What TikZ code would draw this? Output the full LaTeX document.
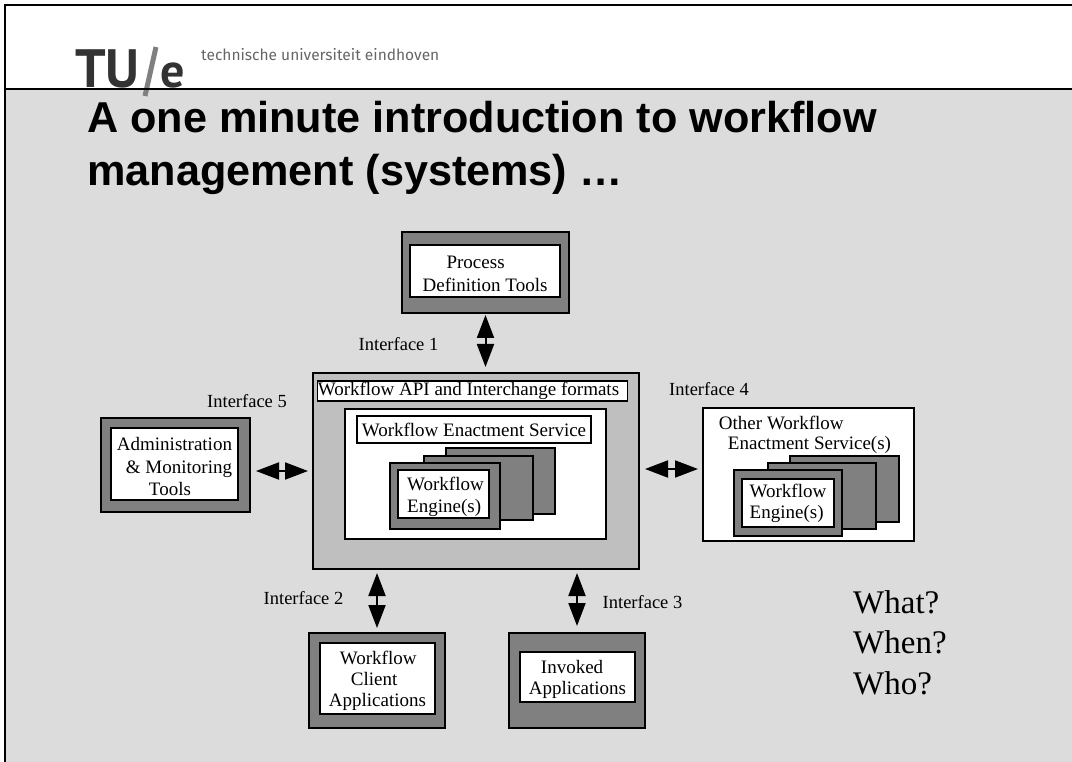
\documentclass[tikz,border=0pt]{standalone}
\usepackage{fontspec}
\setmainfont{Liberation Serif}
\newfontfamily\titlefont{Liberation Sans}
\newfontfamily\logofont{PT Sans}
\newfontfamily\tagfont{Fira Sans}
\usetikzlibrary{arrows.meta}
\definecolor{slidegray}{HTML}{DCDCDC}
\definecolor{panelgray}{HTML}{BFBFBF}
\definecolor{cardgray}{HTML}{808080}
\newcommand{\lowline}{\rule{0pt}{19pt}}
\tikzset{
	box/.style={draw=black,line width=1.3pt,inner sep=0pt,outer sep=0pt,anchor=center},
	card/.style={box,fill=cardgray},
	panel/.style={box,fill=white,align=left,font=\fontsize{19}{21}\selectfont},
	iface/.style={inner sep=0pt,font=\fontsize{18.5}{21}\selectfont},
	biarrow/.style={<->,line width=2pt}
}
\begin{document}
\begin{tikzpicture}[x=1pt,y=-1pt,>={Triangle[length=23pt,width=17pt]}]
		\useasboundingbox (0,0) rectangle (1072,762);
		% slide background and frame
		\fill[slidegray] (5,89) rectangle (1072,762);
		\node[inner sep=0pt,anchor=base west,text=black!80,font=\logofont\bfseries\fontsize{54}{54}\selectfont] (tu) at (75,88) {TU};
		\draw[line width=5pt,black!50] (156,47)--(145,96);
		\node[inner sep=0pt,anchor=base west,text=black!80,font=\logofont\bfseries\fontsize{48}{48}\selectfont] (eind) at (160,88) {e};
		\draw[line width=1.2pt] (5,89)--(1072,89);
		\draw[line width=2.6pt] (1072,5)--(5,5)--(5,762);
		\node[inner sep=0pt,anchor=west,text=black!60,font=\tagfont\fontsize{15.5}{15.5}\selectfont] (tag) at (201,55) {technische universiteit eindhoven};
		% title
		\node[inner sep=0pt,anchor=base west,align=left,font=\titlefont\bfseries\fontsize{43.2}{53.5}\selectfont] (title) at (87,186) {A one minute introduction to workflow\\management (systems) \ldots};
		% tools round the service
		\node[card,minimum width=167pt,minimum height=81pt] (processout) at (485.5,272.5) {};
		\node[panel,minimum width=150pt,minimum height=52pt] (process) at (485,271) {\lowline\hspace*{24pt}Process\\[2pt]Definition Tools};
		\node[card,minimum width=149pt,minimum height=94pt] (adminout) at (175.5,465) {};
		\node[panel,minimum width=127pt,minimum height=72pt] (admin) at (174.5,464) {\lowline Administration\\[1.5pt]\hspace*{9pt}\& Monitoring\\[1.5pt]\hspace*{32pt}Tools};
		\node[card,minimum width=136pt,minimum height=95pt] (clientout) at (377,680.5) {};
		\node[panel,minimum width=115pt,minimum height=71pt] (client) at (377.5,678.5) {\lowline\hspace*{11pt}Workflow\\\hspace*{22pt}Client\\Applications};
		\node[card,minimum width=136pt,minimum height=95pt] (invokedout) at (577,680.5) {};
		\node[panel,minimum width=115pt,minimum height=50pt] (invoked) at (577.5,677) {\lowline\hspace*{12pt}Invoked\\Applications};
		% enactment service
		\node[box,fill=panelgray,minimum width=326pt,minimum height=196pt] (central) at (476,471) {};
		\node[panel,minimum width=309pt,minimum height=20pt] (api) at (472.5,391) {Workflow API and Interchange formats\hspace*{8pt}};
		\node[box,fill=white,minimum width=261pt,minimum height=130pt] (service) at (475.5,474) {};
		\node[panel,minimum width=234pt,minimum height=27pt] (enact) at (474,429.5) {Workflow Enactment Service};
		\node[card,minimum width=109pt,minimum height=66pt] (back) at (500.5,481) {};
		\node[card,minimum width=109pt,minimum height=64pt] (mid) at (478.5,488) {};
		\node[card,minimum width=110pt,minimum height=66pt] (front) at (445,496) {};
		\node[panel,minimum width=91pt,minimum height=48pt] (engine) at (443.5,494) {\lowline\hspace*{4pt}Workflow\\[1pt]\hspace*{4pt}Engine(s)};
		% other service
		\node[box,fill=white,minimum width=211pt,minimum height=133pt] (other) at (808.5,474.5) {};
		\node[inner sep=0pt,align=left,font=\fontsize{19}{20}\selectfont] (othertext) at (805,435) {Other Workflow\\\hspace*{9pt}Enactment Service(s)};
		\node[card,minimum width=109pt,minimum height=66pt] (otherback) at (844.5,489) {};
		\node[card,minimum width=108pt,minimum height=66pt] (othermid) at (822,496) {};
		\node[card,minimum width=108pt,minimum height=66pt] (otherfront) at (788,503) {};
		\node[panel,minimum width=92pt,minimum height=48pt] (otherengine) at (788,503) {Workflow\\Engine(s)};
		% interfaces
		\draw[biarrow,shorten <=2pt,shorten >=6pt] (processout.south)--(processout.south |- central.north);
		\draw[biarrow,shorten <=6pt,shorten >=5pt] (adminout.east |- central.west)--(central.west);
		\draw[biarrow,shorten <=6pt,shorten >=5pt] ([yshift=2pt]central.east)--([yshift=2pt]central.east -| other.west);
		\draw[biarrow,shorten <=4pt,shorten >=5pt] (central.south -| clientout.north)--(clientout.north);
		\draw[biarrow,shorten <=4pt,shorten >=7pt] (central.south -| invokedout.north)--(invokedout.north);
		\node[iface] (if1) at (398.5,344) {Interface 1};
		\node[iface] (if2) at (303.5,598) {Interface 2};
		\node[iface] (if3) at (642.5,602) {Interface 3};
		\node[iface] (if4) at (709,389) {Interface 4};
		\node[iface] (if5) at (247,401) {Interface 5};
		% questions
		\node[inner sep=0pt,anchor=base west,align=left,font=\fontsize{33}{40.5}\selectfont] (what) at (853,694) {What?\\When?\\Who?};
		\end{tikzpicture}
\end{document}
